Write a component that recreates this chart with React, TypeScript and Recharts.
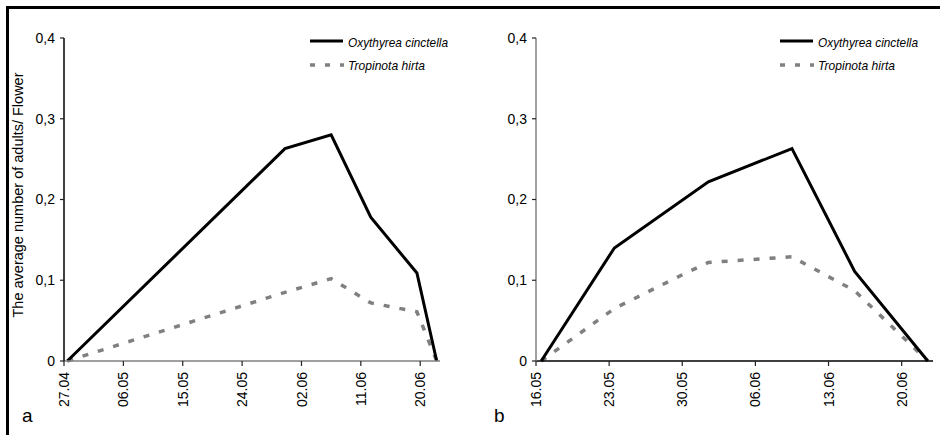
import React from "react";
import { LineChart, Line, XAxis, YAxis } from "recharts";

// shared y axis
const yTicks = [0, 0.1, 0.2, 0.3, 0.4];
const yTickLabels = ["0", "0,1", "0,2", "0,3", "0,4"];
const yLabel = "The average number of adults/ Flower";

const oxyName = "Oxythyrea cinctella";
const tropName = "Tropinota hirta";

// panel a
const ticksA = ["27.04", "06.05", "15.05", "24.05", "02.06", "11.06", "20.06"];
const oxyDatesA = ["27.04", "30.05", "06.06", "12.06", "19.06", "22.06"];
const oxyValuesA = [0, 0.263, 0.28, 0.178, 0.109, 0];
const tropDatesA = ["27.04", "30.05", "06.06", "12.06", "19.06", "22.06"];
const tropValuesA = [0, 0.085, 0.102, 0.072, 0.061, 0];

// panel b
const ticksB = ["16.05", "23.05", "30.05", "06.06", "13.06", "20.06"];
const oxyDatesB = ["16.05", "23.05", "01.06", "09.06", "15.06", "22.06"];
const oxyValuesB = [0, 0.14, 0.222, 0.263, 0.111, 0];
const tropDatesB = ["16.05", "23.05", "30.05", "01.06", "09.06", "15.06", "22.06"];
const tropValuesB = [0, 0.065, 0.11, 0.122, 0.129, 0.087, 0];

const FONT = "'Liberation Sans', Arial, sans-serif";
const monthStart: Record<number, number> = { 4: 90, 5: 120, 6: 151 };

// "dd.mm" -> day of year
function dayOf(s: string) {
  const [d, m] = s.split(".").map(Number);
  return monthStart[m] + d;
}

// each date sits in the middle of its day slot on the date axis
function series(dates: string[], values: number[]) {
  return dates.map((d, i) => ({ x: dayOf(d) + 0.5, y: values[i] }));
}

function yFormat(v: number) {
  const i = yTicks.findIndex((t) => Math.abs(t - v) < 1e-9);
  return i >= 0 ? yTickLabels[i] : String(v);
}

function DateTick(props: any) {
  const { x, y, payload, labels } = props;
  const label = labels.find((l: string) => dayOf(l) === payload.value) ?? "";
  return (
    <text
      x={0}
      y={0}
      dy="0.36em"
      textAnchor="end"
      transform={`translate(${x},${y}) rotate(-90)`}
      fontSize={14}
      fontFamily={FONT}
      fill="#000"
    >
      {label}
    </text>
  );
}

interface PanelProps {
  left: number;
  letter: string;
  ticks: string[];
  domain: [number, number];
  oxy: { x: number; y: number }[];
  trop: { x: number; y: number }[];
  marginLeft: number;
  marginRight: number;
  yAxisColor: string;
  xAxisColor: string;
  showYLabel?: boolean;
}

function Panel({
  left,
  letter,
  ticks,
  domain,
  oxy,
  trop,
  marginLeft,
  marginRight,
  yAxisColor,
  xAxisColor,
  showYLabel,
}: PanelProps) {
  const plotLeft = marginLeft + 40;
  return (
    <div style={{ position: "absolute", left, top: 0, width: 470, height: 435 }}>
      <LineChart
        width={470}
        height={435}
        margin={{ top: 38, right: marginRight, left: marginLeft, bottom: 14 }}
      >
        <XAxis
          dataKey="x"
          type="number"
          domain={domain}
          ticks={ticks.map(dayOf)}
          height={60}
          axisLine={{ stroke: xAxisColor, strokeWidth: 1.5 }}
          tickLine={{ stroke: "#222", strokeWidth: 1.2 }}
          tickSize={5}
          tickMargin={6}
          tick={<DateTick labels={ticks} />}
          interval={0}
          allowDataOverflow
        />
        <YAxis
          type="number"
          domain={[0, 0.4]}
          ticks={yTicks}
          tickFormatter={yFormat}
          width={40}
          axisLine={{ stroke: yAxisColor, strokeWidth: 1.5 }}
          tickLine={{ stroke: "#222", strokeWidth: 1.2 }}
          tickSize={4}
          tickMargin={5}
          tick={{ fontSize: 14, fontFamily: FONT, fill: "#000" }}
          interval={0}
        />
        <Line
          data={trop}
          dataKey="y"
          type="linear"
          stroke="#808080"
          strokeWidth={3.5}
          strokeDasharray="6 10"
          dot={false}
          activeDot={false}
          isAnimationActive={false}
        />
        <Line
          data={oxy}
          dataKey="y"
          type="linear"
          stroke="#000"
          strokeWidth={3}
          dot={false}
          activeDot={false}
          isAnimationActive={false}
        />
      </LineChart>
      <svg
        width={470}
        height={435}
        style={{ position: "absolute", left: 0, top: 0, pointerEvents: "none" }}
        fontFamily={FONT}
      >
        {showYLabel && (
          <text
            x={0}
            y={0}
            transform="translate(22.5,195) rotate(-90)"
            textAnchor="middle"
            fontSize={14.5}
            fill="#000"
          >
            {yLabel}
          </text>
        )}
        <text x={plotLeft - 42} y={422} fontSize={19} fill="#000">
          {letter}
        </text>
        {/* legend, narrow italic labels */}
        <g transform="translate(310,0)">
          <line x1={0} x2={33} y1={41} y2={41} stroke="#000" strokeWidth={3} />
          <text
            x={38}
            y={46.5}
            fontSize={13.5}
            fontStyle="italic"
            fill="#000"
            textLength={100}
            lengthAdjust="spacingAndGlyphs"
          >
            {oxyName}
          </text>
          <line
            x1={0}
            x2={34}
            y1={65}
            y2={65}
            stroke="#808080"
            strokeWidth={3.5}
            strokeDasharray="5 10"
          />
          <text
            x={38}
            y={70}
            fontSize={13.5}
            fontStyle="italic"
            fill="#000"
            textLength={77}
            lengthAdjust="spacingAndGlyphs"
          >
            {tropName}
          </text>
        </g>
      </svg>
    </div>
  );
}

export default function App() {
  return (
    <div
      style={{
        position: "absolute",
        left: 0,
        top: 0,
        width: 940,
        height: 435,
        background: "#fff",
        overflow: "hidden",
      }}
    >
      <div
        style={{
          position: "absolute",
          left: 6,
          top: 6,
          width: 940,
          height: 435,
          borderTop: "3px solid #000",
          borderLeft: "3px solid #000",
        }}
      />
      <Panel
        left={0}
        letter="a"
        ticks={ticksA}
        domain={[117, 174]}
        oxy={series(oxyDatesA, oxyValuesA)}
        trop={series(tropDatesA, tropValuesA)}
        marginLeft={24}
        marginRight={30}
        yAxisColor="#000"
        xAxisColor="#808080"
        showYLabel
      />
      <Panel
        left={470}
        letter="b"
        ticks={ticksB}
        domain={[136, 174]}
        oxy={series(oxyDatesB, oxyValuesB)}
        trop={series(tropDatesB, tropValuesB)}
        marginLeft={26}
        marginRight={7}
        yAxisColor="#808080"
        xAxisColor="#000"
      />
    </div>
  );
}
